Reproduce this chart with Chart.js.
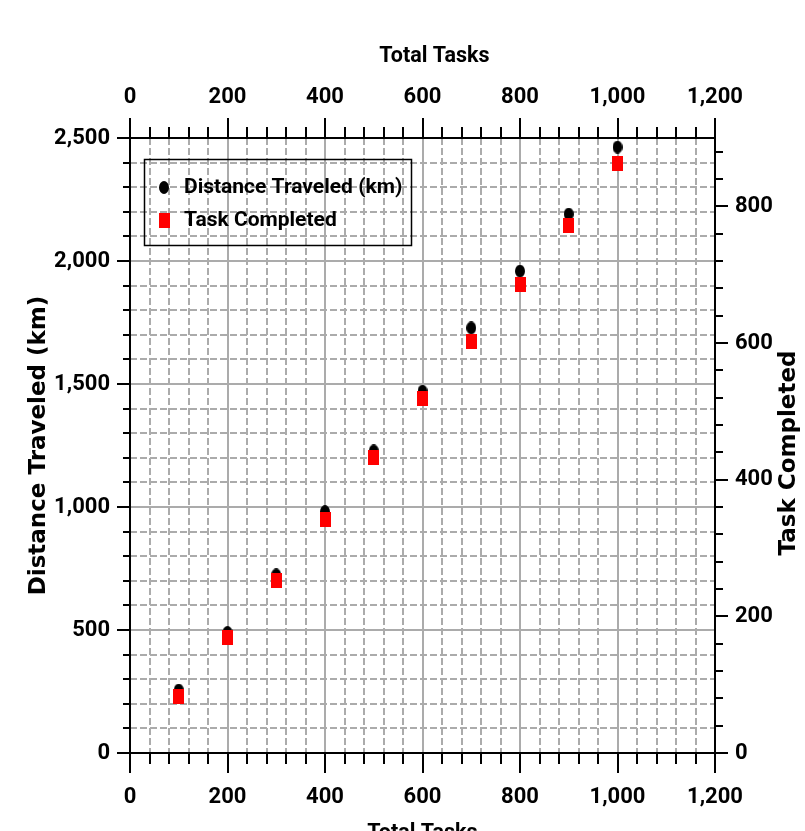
<!DOCTYPE html>
<html>
<head>
<meta charset="utf-8">
<script src="https://cdn.jsdelivr.net/npm/chart.js@4.4.1/dist/chart.umd.min.js"></script>
<style>
html, body { margin: 0; padding: 0; background: #fff; overflow: hidden; }
#chart { display: block; }
</style>
</head>
<body>
<canvas id="chart" width="805" height="860"></canvas>
<script>
// values
const totalTasks = [100, 200, 300, 400, 500, 600, 700, 800, 900, 1000];
const distanceKm = [256, 490, 724, 981, 1228, 1471, 1728, 1959, 2191, 2463];
const tasksDone = [82, 169, 253, 342, 432, 519, 602, 685, 772, 862];

const xRange = [0, 1200];
const yRange = [0, 2500];
const y2Range = [0, 900];

const NARROW = 'Roboto, "Liberation Sans", sans-serif';
const WIDE = '"DejaVu Sans", sans-serif';
const GRID = '#ababab';
const DASH = [7, 3];

function marker(w, h, color, round) {
    const c = document.createElement('canvas');
    c.width = w; c.height = h;
    const g = c.getContext('2d');
    g.fillStyle = color;
    if (round) {
        g.beginPath();
        g.ellipse(w / 2, h / 2, w / 2, h / 2, 0, 0, Math.PI * 2);
        g.fill();
    } else {
        g.fillRect(0, 0, w, h);
    }
    return c;
}

const dotImg = marker(10, 13, '#000', true);
const squareImg = marker(11, 15, '#ff0000', false);

const fmt = (v) => Number(v).toLocaleString('en-US');
const tickFont = { family: NARROW, size: 22, weight: 'bold' };
const titleFont = { family: NARROW, size: 21.5, weight: 'bold' };
const minorColor = (major) => (ctx) => (ctx.tick && ctx.tick.value % major === 0) ? 'rgba(0,0,0,0)' : GRID;
const fixH = (h) => (s) => { s.height = h; };
const fixW = (w) => (s) => { s.width = w; };

function majorAxis(pos, range, step, opts) {
    return Object.assign({
        type: 'linear', position: pos, weight: 1, min: range[0], max: range[1],
        ticks: { stepSize: step, includeBounds: false, autoSkip: false, maxRotation: 0,
                 color: '#000', font: tickFont, padding: opts.pad, callback: fmt },
        grid: { color: GRID, lineWidth: 2, drawOnChartArea: opts.grid, tickColor: '#000',
                tickWidth: 2, tickLength: opts.tick },
        border: { color: '#000', width: 2 }
    }, opts.extra || {});
}

function minorAxis(pos, range, step, major, tick, grid, fit) {
    return {
        type: 'linear', position: pos, weight: 0, min: range[0], max: range[1],
        ticks: { stepSize: step, includeBounds: false, display: false },
        grid: { color: minorColor(major), lineWidth: 2, drawOnChartArea: grid, tickColor: '#000',
                tickWidth: 2, tickLength: tick },
        border: { display: false, dash: DASH },
        afterFit: fit
    };
}

const boxedLegend = {
    id: 'boxedLegend',
    afterDatasetsDraw(chart) {
        const { ctx, chartArea } = chart;
        const x = chartArea.left + 14, y = chartArea.top + 21;
        ctx.save();
        ctx.strokeStyle = '#000';
        ctx.lineWidth = 1.5;
        ctx.strokeRect(x + 0.5, y + 0.5, 267, 86);
        ctx.font = 'bold 21px ' + NARROW;
        ctx.textBaseline = 'middle';
        ctx.fillStyle = '#000';
        chart.data.datasets.forEach((ds, i) => {
            const cy = y + 28 + i * 33;
            const img = ds.pointStyle;
            ctx.drawImage(img, Math.round(x + 20 - img.width / 2), Math.round(cy - img.height / 2));
            ctx.fillText(ds.label, x + 40, cy + 1);
        });
        ctx.restore();
    }
};

// the top title sits a little right of centre and the right title reads
// bottom-to-top in the reference, so both are drawn here
const axisTitles = {
    id: 'axisTitles',
    afterDraw(chart) {
        const { ctx, chartArea } = chart;
        const top = chart.scales.x2, right = chart.scales.y2;
        ctx.save();
        ctx.fillStyle = '#000';
        ctx.textAlign = 'center';
        ctx.textBaseline = 'middle';
        ctx.font = 'bold ' + titleFont.size + 'px ' + NARROW;
        ctx.fillText(top.options.title.text, (chartArea.left + chartArea.right) / 2 + 12, 57);
        ctx.translate(right.right - 16, 453);
        ctx.rotate(-Math.PI / 2);
        ctx.font = 'bold 23px ' + WIDE;
        ctx.fillText(right.options.title.text, 0, 0);
        ctx.restore();
    }
};

const ctx = document.getElementById('chart').getContext('2d');
new Chart(ctx, {
    type: 'scatter',
    data: {
        datasets: [{
            label: 'Distance Traveled (km)',
            data: totalTasks.map((t, i) => ({ x: t, y: distanceKm[i] })),
            pointStyle: dotImg,
            xAxisID: 'x', yAxisID: 'y',
            order: 1
        }, {
            label: 'Task Completed',
            data: totalTasks.map((t, i) => ({ x: t, y: tasksDone[i] })),
            pointStyle: squareImg,
            xAxisID: 'x', yAxisID: 'y2',
            order: 0
        }]
    },
    options: {
        responsive: false,
        animation: false,
        devicePixelRatio: 1,
        layout: { padding: 0 },
        plugins: { legend: { display: false }, tooltip: { enabled: false } },
        scales: {
            x: majorAxis('bottom', xRange, 200, { pad: 10.8, tick: 20, grid: true, extra: {
                title: { display: true, text: 'Total Tasks', color: '#000',
                         font: titleFont, padding: { top: 0, bottom: 13 } },
                afterFit: fixH(107) } }),
            xMinor: minorAxis('bottom', xRange, 40, 200, 11, true, fixH(0)),
            x2: majorAxis('top', xRange, 200, { pad: 7.8, tick: 20, grid: false, extra: {
                title: { display: false, text: 'Total Tasks' },
                afterFit: fixH(138) } }),
            x2Minor: minorAxis('top', xRange, 40, 200, 11, false, fixH(0)),
            y: majorAxis('left', yRange, 500, { pad: 7, tick: 13, grid: true, extra: {
                title: { display: true, text: 'Distance Traveled (km)', color: '#000',
                         font: { family: WIDE, size: 23, weight: 'bold' }, padding: { top: 25, bottom: 0 } },
                afterFit: fixW(130) } }),
            yMinor: minorAxis('left', yRange, 100, 500, 7, true, fixW(0)),
            y2: majorAxis('right', y2Range, 200, { pad: 7, tick: 13, grid: false, extra: {
                title: { display: false, text: 'Task Completed' },
                afterFit: fixW(90) } }),
            y2Minor: minorAxis('right', y2Range, 40, 200, 8, false, fixW(0))
        }
    },
    plugins: [boxedLegend, axisTitles]
});
</script>
</body>
</html>
